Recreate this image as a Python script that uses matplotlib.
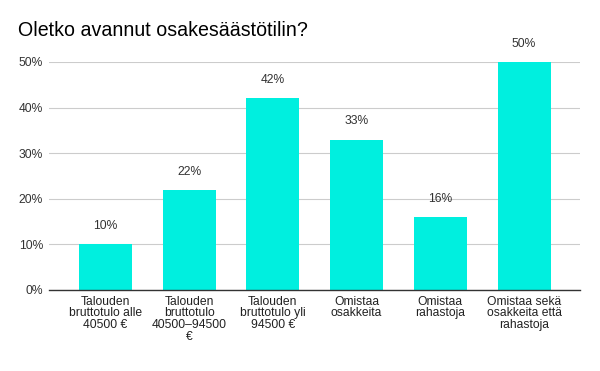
import matplotlib
matplotlib.use("Agg")
import matplotlib.pyplot as plt

categories = [
    "Talouden\nbruttotulo alle\n40500 €",
    "Talouden\nbruttotulo\n40500–94500\n€",
    "Talouden\nbruttotulo yli\n94500 €",
    "Omistaa\nosakkeita",
    "Omistaa\nrahastoja",
    "Omistaa sekä\nosakkeita että\nrahastoja",
]
values = [10, 22, 42, 33, 16, 50]
yticks = [0, 10, 20, 30, 40, 50]

plt.rcParams['font.family'] = ['Liberation Sans', 'DejaVu Sans']

fig = plt.figure(figsize=(6, 3.71), dpi=100)
ax = fig.add_axes([49/600, 81/371, 531/600, 228/371])

x = list(range(len(categories)))
ax.bar(x, values, width=0.633, color="#00efdf", zorder=2)
for xi, v in zip(x, values):
    ax.annotate(f"{v}%", (xi, v), xytext=(0, 13), textcoords="offset points",
                ha="center", va="center", fontsize=8.7, color="#333333", annotation_clip=False)

ax.set_xlim(-0.674, 5.668)
ax.set_ylim(0, 50)
ax.set_yticks(yticks)
ax.set_yticklabels([f"{t}%" for t in yticks], fontsize=8.7, color="#333333")
ax.set_xticks(x)
ax.set_xticklabels(categories, fontsize=8.7, color="#222222", linespacing=0.98, va="top")
ax.tick_params(axis="both", length=0)
ax.tick_params(axis="x", pad=4)
ax.tick_params(axis="y", pad=4.3)
ax.grid(axis="y", color="#cccccc", linewidth=0.8, zorder=0)
for s in ["top", "right", "left"]:
    ax.spines[s].set_visible(False)
ax.spines["bottom"].set_color("#333333")
ax.spines["bottom"].set_linewidth(1)
ax.spines["bottom"].set_zorder(3)

fig.text(18/600, 1 - 31/371, "Oletko avannut osakesäästötilin?", fontsize=14.1,
         color="#000000", ha="left", va="center")

fig.savefig("out.png", dpi=100, facecolor="white")
